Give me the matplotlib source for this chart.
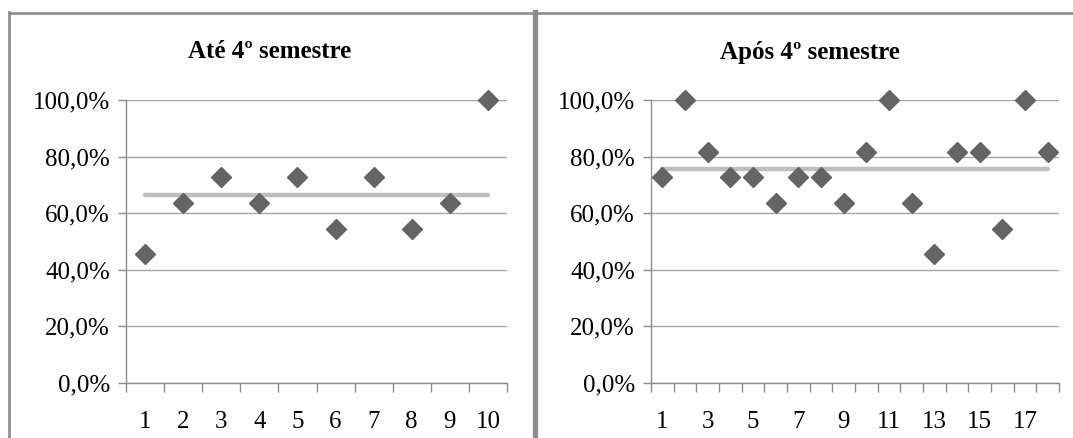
import numpy as np
import matplotlib
matplotlib.use("Agg")
import matplotlib.pyplot as plt
from matplotlib.lines import Line2D
from matplotlib.ticker import FuncFormatter

# values (fraction of 11 questions)
ate_x = list(range(1, 11))
ate_y = [0.455, 0.636, 0.727, 0.636, 0.727, 0.545, 0.727, 0.545, 0.636, 1.0]

apos_x = list(range(1, 19))
apos_y = [0.727, 1.0, 0.818, 0.727, 0.727, 0.636, 0.727, 0.727, 0.636,
          0.818, 1.0, 0.636, 0.455, 0.818, 0.818, 0.545, 1.0, 0.818]

titles = ["Até 4º semestre", "Após 4º semestre"]
y_ticks = [0, 0.2, 0.4, 0.6, 0.8, 1.0]

plt.rcParams['font.family'] = ['Liberation Serif', 'DejaVu Serif']

W, H = 1073, 438
fig = plt.figure(figsize=(W / 100, H / 100), dpi=100)


def pct(v, pos):
    return ("%.1f%%" % (v * 100)).replace(".", ",")


def panel(rect, xs, ys, label_step):
    ax = fig.add_axes(rect)
    n = len(xs)
    ax.set_xlim(0.5, n + 0.5)
    ax.set_ylim(0, 1)
    for s in ["top", "right"]:
        ax.spines[s].set_visible(False)
    for s in ["left", "bottom"]:
        ax.spines[s].set_color("#8c8c8c")
        ax.spines[s].set_linewidth(1.0)
    ax.set_yticks(y_ticks)
    ax.yaxis.set_major_formatter(FuncFormatter(pct))
    ax.tick_params(axis="y", length=6, width=1.0, color="#8c8c8c", pad=5.5,
                   labelsize=18)
    ax.yaxis.grid(True, color="#a6a6a6", linewidth=1.0)
    ax.set_axisbelow(True)
    ax.set_xticks(xs[::label_step])
    ax.set_xticklabels([str(v) for v in xs[::label_step]])
    ax.set_xticks(np.arange(0.5, n + 1, 1.0), minor=True)
    ax.tick_params(axis="x", which="major", length=0, pad=20, labelsize=18)
    ax.tick_params(axis="x", which="minor", length=6.5, width=1.0,
                   color="#8c8c8c")
    mean = np.mean(ys)
    ax.plot([xs[0], xs[-1]], [mean, mean], color="#bfbfbf", linewidth=3.2,
            solid_capstyle="round", zorder=2)
    ax.plot(xs, ys, linestyle="none", marker="D", markersize=10.5,
            color="#646464", markeredgecolor="#646464", zorder=3,
            clip_on=False)
    return ax


panel([126 / W, 1 - 383 / H, 381 / W, 283 / H], ate_x, ate_y, 1)
panel([651 / W, 1 - 383 / H, 408 / W, 283 / H], apos_x, apos_y, 2)

fig.text(270 / W, 1 - 52 / H, titles[0], ha="center", va="center",
         fontsize=18, fontweight="bold")
fig.text(810 / W, 1 - 52 / H, titles[1], ha="center", va="center",
         fontsize=18, fontweight="bold")

# chart frames
bc = "#8c8c8c"
fig.add_artist(Line2D([8.5 / W, 1], [1 - 13 / H, 1 - 13 / H], color=bc,
                      linewidth=1.9))
fig.add_artist(Line2D([9 / W, 9 / W], [0, 1 - 12 / H], color=bc,
                      linewidth=1.9))
fig.add_artist(Line2D([535 / W, 535 / W], [0, 1 - 12 / H], color=bc,
                      linewidth=3.8))

fig.savefig("out.png", dpi=100, facecolor="white")
